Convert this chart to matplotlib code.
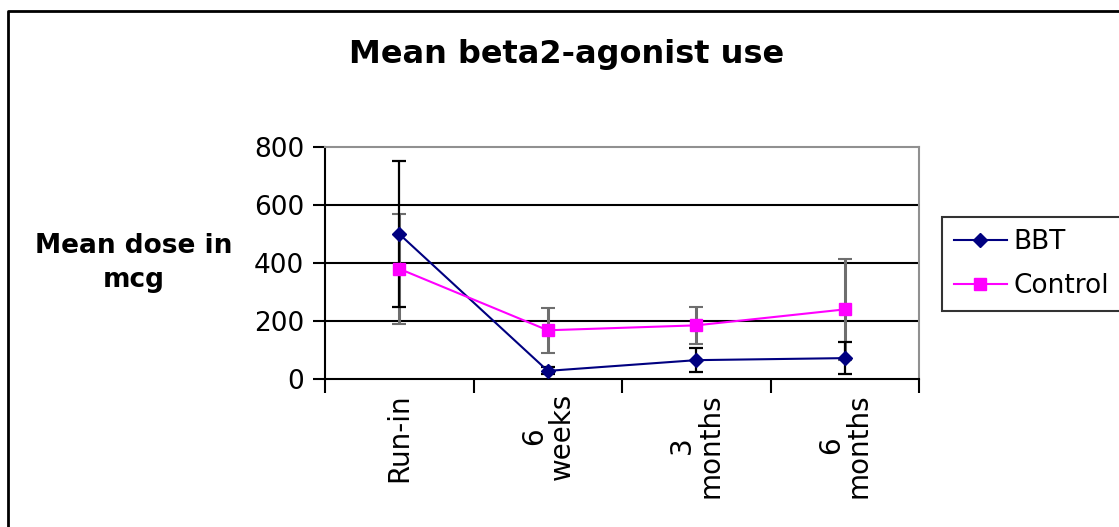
import matplotlib
matplotlib.use("Agg")
from matplotlib import pyplot as plt
from matplotlib.lines import Line2D

# data
categories = ["Run-in", "6\nweeks", "3\nmonths", "6\nmonths"]
bbt_mean = [500, 28, 65, 72]
bbt_err = [250, 12, 42, 55]
control_mean = [380, 168, 185, 240]
control_err = [190, 78, 65, 175]
y_ticks = [0, 200, 400, 600, 800]

plt.rcParams["font.family"] = ["DejaVu Sans"]

W, H = 1119, 527
fig = plt.figure(figsize=(W / 100, H / 100), dpi=100)
ax = fig.add_axes([325 / W, 1 - 379 / H, (919 - 325) / W, (379 - 147) / H])

x = [i + 0.5 for i in range(len(categories))]

# error bars first so markers sit on top
ax.errorbar(x, control_mean, yerr=control_err, fmt="none", ecolor="#6e6e6e",
            elinewidth=2.2, capsize=5, capthick=1.5, linestyle=(0, (1, 1)),
            zorder=3)
ax.errorbar(x, bbt_mean, yerr=bbt_err, fmt="none", ecolor="black",
            elinewidth=1.6, capsize=5, capthick=1.6, zorder=3)

ax.plot(x, bbt_mean, "-", color="#000080", lw=1.5, marker="D",
        markersize=7, label="BBT", zorder=4)
ax.plot(x, control_mean, "-", color="#FF00FF", lw=1.5, marker="s",
        markersize=8, label="Control", zorder=4)

ax.set_xlim(0, len(categories))
ax.set_ylim(0, 800)
ax.set_yticks(y_ticks)
ax.set_yticklabels([str(v) for v in y_ticks], fontsize=19)
ax.set_xticks(range(len(categories) + 1))
ax.set_xticklabels([])
ax.set_xticks(x, minor=True)
ax.set_xticklabels(categories, minor=True, rotation=90, fontsize=20,
                   va="top", ha="center", multialignment="center",
                   linespacing=1.0)
ax.tick_params(axis="x", which="minor", length=0, pad=10)
ax.tick_params(axis="x", which="major", length=10, width=1.5, direction="out")
ax.tick_params(axis="y", length=9, width=1.5, direction="out", pad=6)

for v in y_ticks[1:-1]:
    ax.axhline(v, color="black", lw=1.5, zorder=1)

ax.spines["left"].set_linewidth(1.5)
ax.spines["bottom"].set_linewidth(1.5)
ax.spines["top"].set_color("#909090")
ax.spines["right"].set_color("#909090")
ax.spines["top"].set_linewidth(1.5)
ax.spines["right"].set_linewidth(1.5)

fig.text(567 / W, 1 - 63 / H, "Mean beta2-agonist use", ha="center",
         va="baseline", fontsize=23, fontweight="bold")
fig.text(134 / W, 1 - 253 / H, "Mean dose in", ha="center",
         va="baseline", fontsize=19, fontweight="bold")
fig.text(134 / W, 1 - 287 / H, "mcg", ha="center",
         va="baseline", fontsize=19, fontweight="bold")

leg = fig.legend(loc="upper left", bbox_to_anchor=(942 / W, 1 - 217 / H),
                 fontsize=19, frameon=True, fancybox=False, borderpad=0.45,
                 handlelength=2.0, handletextpad=0.25, labelspacing=0.7,
                 borderaxespad=0)
leg.get_frame().set_edgecolor("black")
leg.get_frame().set_linewidth(1.5)

# outer chart frame: only its left and top edges fall inside the picture
fig.lines.append(Line2D([8 / W, 8 / W, 1.0], [0.0, 1 - 11 / H, 1 - 11 / H],
                        transform=fig.transFigure, color="black", lw=2))

fig.savefig("out.png", dpi=100)
